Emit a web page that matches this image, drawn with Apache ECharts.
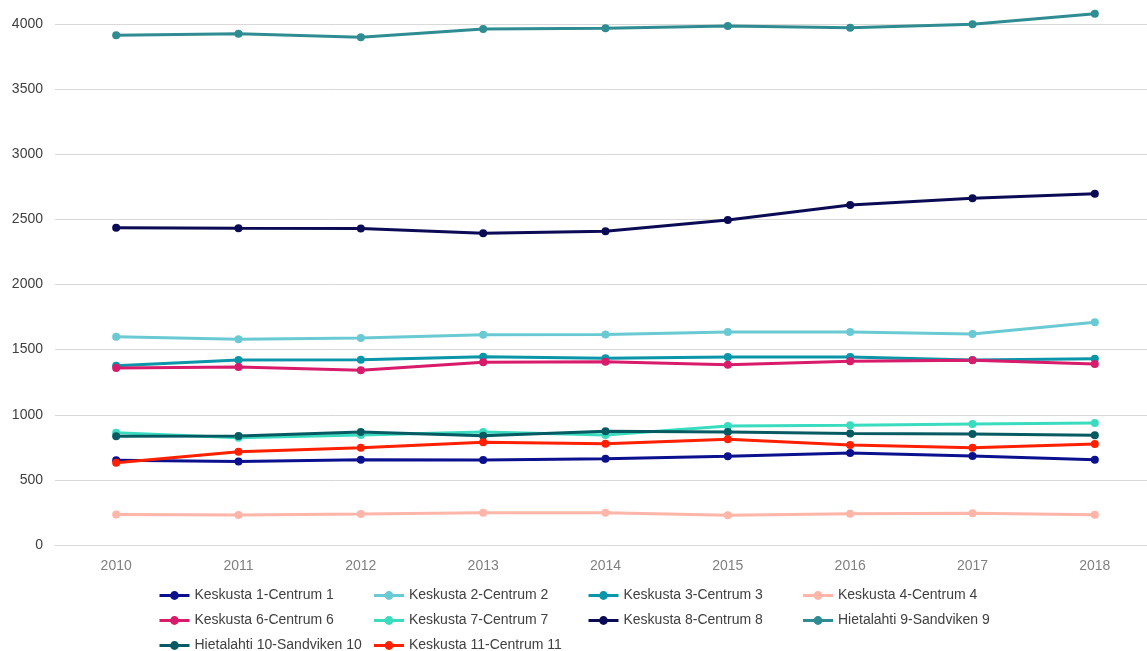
<!DOCTYPE html>
<html>
<head>
<meta charset="utf-8">
<script src="https://cdn.jsdelivr.net/npm/echarts@6/dist/echarts.min.js"></script>
<style>
  html, body { margin: 0; padding: 0; background: #ffffff; }
  #chart { width: 1147px; height: 651px; }
</style>
</head>
<body>
<div id="chart"></div>
<script>
// Years on the category axis
const years = ['2010', '2011', '2012', '2013', '2014', '2015', '2016', '2017', '2018'];

// Value-axis tick range
const yMin = 0;
const yMax = 4000;
const yStep = 500;

// District names, in legend order
const names = [
  'Keskusta 1-Centrum 1',
  'Keskusta 2-Centrum 2',
  'Keskusta 3-Centrum 3',
  'Keskusta 4-Centrum 4',
  'Keskusta 6-Centrum 6',
  'Keskusta 7-Centrum 7',
  'Keskusta 8-Centrum 8',
  'Hietalahti 9-Sandviken 9',
  'Hietalahti 10-Sandviken 10',
  'Keskusta 11-Centrum 11'
];

// Yearly values per district
const keskusta1 = [650, 642, 655, 653, 663, 681, 706, 683, 655];
const keskusta2 = [1599, 1579, 1589, 1615, 1617, 1635, 1635, 1620, 1710];
const keskusta3 = [1377, 1420, 1423, 1446, 1433, 1443, 1443, 1420, 1430];
const keskusta4 = [235, 230, 238, 248, 248, 228, 240, 243, 233];
const keskusta6 = [1359, 1367, 1341, 1403, 1407, 1384, 1410, 1418, 1390];
const keskusta7 = [862, 824, 845, 868, 845, 914, 919, 929, 937];
const keskusta8 = [2436, 2431, 2429, 2393, 2408, 2495, 2610, 2662, 2697];
const hietalahti9 = [3913, 3926, 3898, 3962, 3967, 3985, 3972, 3998, 4079];
const hietalahti10 = [835, 837, 868, 839, 873, 868, 857, 852, 842];
const keskusta11 = [632, 716, 747, 788, 778, 811, 768, 747, 775];

const seriesValues = [
  keskusta1, keskusta2, keskusta3, keskusta4, keskusta6,
  keskusta7, keskusta8, hietalahti9, hietalahti10, keskusta11
];

const colors = [
  '#0b108f', '#6acad4', '#0a95a8', '#ffb5a8', '#d81b6a',
  '#3adcc0', '#0b0b55', '#2e8c92', '#065a62', '#ff2000'
];

const font = '"Liberation Sans", Arial, sans-serif';

const chart = echarts.init(document.getElementById('chart'), null, { renderer: 'canvas' });

chart.setOption({
  animation: false,
  backgroundColor: '#ffffff',
  color: colors,
  grid: {
    left: 55,
    top: 24,
    width: 1101,
    height: 521,
    containLabel: false,
    outerBoundsMode: 'none'
  },
  legend: {
    data: names,
    left: 158,
    top: 585,
    width: 870,
    padding: 0,
    orient: 'horizontal',
    itemWidth: 30,
    itemHeight: 11,
    itemGap: 4,
    lineStyle: { width: 3 },
    textStyle: {
      fontFamily: font,
      fontSize: 14,
      color: '#404040',
      width: 174,
      lineHeight: 21,
      overflow: 'none'
    }
  },
  xAxis: {
    type: 'category',
    data: years,
    boundaryGap: true,
    axisLine: { show: true, lineStyle: { color: '#d9d9d9', width: 1 } },
    axisTick: { show: false },
    axisLabel: {
      margin: 14,
      fontFamily: font,
      fontSize: 14,
      color: '#808080'
    },
    splitLine: { show: false }
  },
  yAxis: {
    type: 'value',
    min: yMin,
    max: yMax,
    interval: yStep,
    axisLine: { show: false },
    axisTick: { show: false },
    axisLabel: {
      margin: 12,
      fontFamily: font,
      fontSize: 14,
      color: '#404040',
      formatter: (v) => String(v)
    },
    splitLine: { show: true, lineStyle: { color: '#d9d9d9', width: 1 } }
  },
  series: names.map((name, i) => ({
    name: name,
    type: 'line',
    data: seriesValues[i],
    clip: false,
    symbol: 'circle',
    symbolSize: 8,
    lineStyle: { width: 3, color: colors[i] },
    itemStyle: { color: colors[i] },
    emphasis: { disabled: true }
  }))
});
</script>
</body>
</html>
